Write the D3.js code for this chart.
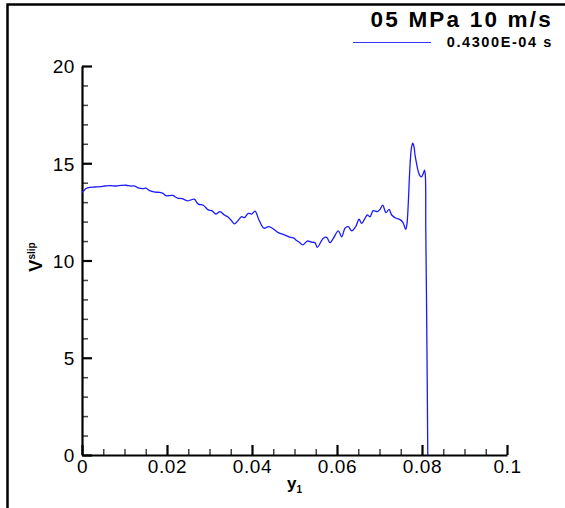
<!DOCTYPE html>
<html>
<head>
<meta charset="utf-8">
<script src="https://cdn.jsdelivr.net/npm/d3@7"></script>
<style>
  html, body { margin: 0; padding: 0; background: #fff; }
  svg { display: block; font-family: "Liberation Sans", Arial, sans-serif; }
</style>
</head>
<body>
<svg id="chart" width="565" height="508"></svg>
<script>
// Slip velocity profile along y1
const y1Values = [0, 0.00047, 0.00094, 0.00181, 0.00306, 0.00424, 0.00541, 0.00682, 0.008, 0.00918,
  0.01035, 0.01153, 0.01224, 0.01318, 0.01435, 0.01506, 0.01593, 0.01718, 0.01828, 0.01906,
  0.01976, 0.02071, 0.02141, 0.02188, 0.02259, 0.02353, 0.02478, 0.02565, 0.02642, 0.02736,
  0.02854, 0.02972, 0.03052, 0.03153, 0.03247, 0.03348, 0.03428, 0.03506, 0.03584, 0.03671,
  0.03758, 0.03819, 0.03913, 0.03993, 0.04071, 0.04165, 0.04282, 0.04384, 0.04478, 0.04619,
  0.04776, 0.04894, 0.04995, 0.05035, 0.05113, 0.05193, 0.05301, 0.05405, 0.05482, 0.05536,
  0.05678, 0.05758, 0.05835, 0.05913, 0.06031, 0.06111, 0.06188, 0.06266, 0.06346, 0.06447,
  0.06518, 0.06581, 0.06659, 0.06713, 0.06776, 0.06854, 0.06948, 0.07012, 0.07075, 0.07153,
  0.07224, 0.07287, 0.07388, 0.07482, 0.07553, 0.07616, 0.07647, 0.07678, 0.07718, 0.07753,
  0.07781, 0.07812, 0.07835, 0.07871, 0.07913, 0.07953, 0.07988, 0.08031, 0.08059, 0.08078,
  0.08089, 0.08106, 0.08122, 0.08136];
const vSlip = [13.49, 13.6, 13.7, 13.76, 13.78, 13.8, 13.83, 13.85, 13.83, 13.86,
  13.87, 13.82, 13.84, 13.74, 13.70, 13.72, 13.59, 13.52, 13.5, 13.45,
  13.33, 13.34, 13.35, 13.28, 13.2, 13.18, 13.07, 13.12, 13.15, 12.9,
  12.84, 12.6, 12.56, 12.39, 12.51, 12.34, 12.25, 12.08, 11.88, 12.05,
  12.25, 12.2, 12.42, 12.39, 12.54, 12.08, 11.66, 11.74, 11.66, 11.43,
  11.31, 11.2, 11.14, 11.05, 10.94, 10.80, 11.0, 10.94, 10.92, 10.68,
  11.14, 11.19, 10.92, 11.14, 11.52, 11.22, 11.66, 11.74, 11.52, 11.77,
  12.12, 11.91, 12.17, 12.34, 12.25, 12.56, 12.51, 12.63, 12.85, 12.46,
  12.63, 12.34, 12.17, 12.1, 11.95, 11.6, 11.9, 12.98, 14.9, 15.8,
  16.03, 15.85, 15.43, 15.0, 14.57, 14.35, 14.3, 14.48, 14.65, 14.4,
  11.6, 8, 4, 0];

const xTicks = [0, 0.02, 0.04, 0.06, 0.08, 0.1];
const xTickLabels = ["0", "0.02", "0.04", "0.06", "0.08", "0.1"];
const yTicks = [0, 5, 10, 15, 20];
const titleText = "05 MPa 10 m/s";
const legendText = "0.4300E-04 s";

const svg = d3.select("#chart");
const plot = { left: 82, right: 507, top: 66, bottom: 455 };

const x = d3.scaleLinear().domain([0, 0.1]).range([plot.left, plot.right]);
const y = d3.scaleLinear().domain([0, 20]).range([plot.bottom, plot.top]);

// outer frame (top and left edges visible)
svg.append("rect")
  .attr("x", 7.5).attr("y", 4.5).attr("width", 700).attr("height", 700)
  .attr("fill", "none").attr("stroke", "#000").attr("stroke-width", 2.5);

// minor ticks
const xMinor = d3.range(0, 0.1001, 0.005).filter(v => !xTicks.some(t => Math.abs(t - v) < 1e-9));
const yMinor = d3.range(0, 20.01, 1).filter(v => v % 5 !== 0);

const labelFont = g => g
  .attr("font-size", 19).attr("letter-spacing", 0.6)
  .attr("font-family", "Liberation Sans, Arial, sans-serif")
  .attr("fill", "#000");

const xAxis = svg.append("g").attr("transform", `translate(0,${plot.bottom})`);
xAxis.call(d3.axisTop(x).tickValues(xMinor).tickSize(6).tickFormat(""))
  .call(g => g.select(".domain").remove())
  .call(g => g.selectAll("line").attr("stroke", "#444").attr("stroke-width", 1.5));
const xAxisMajor = svg.append("g").attr("transform", `translate(0,${plot.bottom})`);
xAxisMajor.call(d3.axisTop(x).tickValues(xTicks).tickSize(10).tickSizeOuter(0)
    .tickFormat((d, i) => xTickLabels[i]))
  .call(g => g.select(".domain").attr("stroke-width", 2.2))
  .call(g => g.selectAll("line").attr("stroke-width", 2.2))
  .call(g => g.selectAll("text").attr("y", 5).attr("dy", "0.71em").call(labelFont));

const yAxis = svg.append("g").attr("transform", `translate(${plot.left},0)`);
yAxis.call(d3.axisRight(y).tickValues(yMinor).tickSize(6).tickFormat(""))
  .call(g => g.select(".domain").remove())
  .call(g => g.selectAll("line").attr("stroke", "#444").attr("stroke-width", 1.5));
const yAxisMajor = svg.append("g").attr("transform", `translate(${plot.left},0)`);
yAxisMajor.call(d3.axisRight(y).tickValues(yTicks).tickSize(10).tickSizeOuter(0))
  .call(g => g.select(".domain").attr("stroke-width", 2.2))
  .call(g => g.selectAll("line").attr("stroke-width", 2.2))
  .call(g => g.selectAll("text")
    .attr("x", -7).attr("dy", "0.36em").attr("text-anchor", "end").call(labelFont));

// data curve
const line = d3.line().x((d, i) => x(y1Values[i])).y(d => y(d)).curve(d3.curveCatmullRom.alpha(0.5));
svg.append("path")
  .datum(vSlip)
  .attr("d", line)
  .attr("fill", "none")
  .attr("stroke", "#1a1aff")
  .attr("stroke-width", 1.3);

// axis titles
const xTitle = svg.append("text")
  .attr("x", (plot.left + plot.right) / 2).attr("y", 489)
  .attr("text-anchor", "middle").attr("font-weight", "bold").attr("font-size", 17);
xTitle.append("tspan").text("y");
xTitle.append("tspan").attr("font-size", 10).attr("dy", 4).text("1");

const yTitle = svg.append("text")
  .attr("transform", "translate(42,257) rotate(-90)")
  .attr("text-anchor", "middle").attr("font-weight", "bold").attr("font-size", 18);
yTitle.append("tspan").text("V");
yTitle.append("tspan").attr("font-size", 10).attr("dy", -7).text("slip");

// title and legend
svg.append("text")
  .attr("x", 553).attr("y", 27).attr("text-anchor", "end")
  .attr("font-weight", "bold").attr("font-size", 22.5).attr("letter-spacing", 2.2)
  .text(titleText);
svg.append("line")
  .attr("x1", 353).attr("x2", 431).attr("y1", 42.5).attr("y2", 42.5)
  .attr("stroke", "#3333ff").attr("stroke-width", 1);
svg.append("text")
  .attr("x", 553).attr("y", 47).attr("text-anchor", "end")
  .attr("font-weight", "bold").attr("font-size", 14.5).attr("letter-spacing", 1.6)
  .text(legendText);
</script>
</body>
</html>
